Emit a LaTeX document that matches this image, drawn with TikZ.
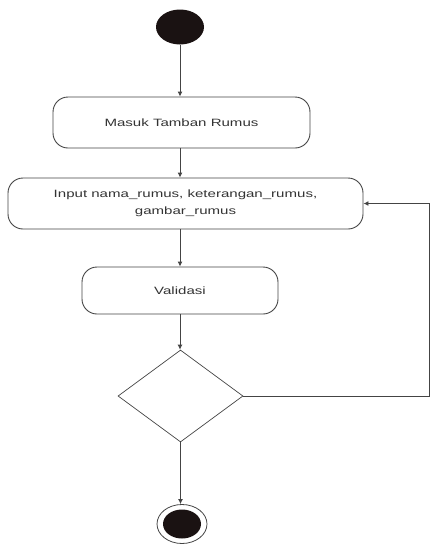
\documentclass[tikz,border=0pt]{standalone}
\usepackage{fontspec}
\setmainfont{Liberation Sans}[FakeStretch=1.42]
\usetikzlibrary{shapes.geometric,arrows.meta}
\definecolor{ln}{HTML}{444444}
\definecolor{tx}{HTML}{333333}
\definecolor{blk}{HTML}{1A1212}
\begin{document}
\begin{tikzpicture}[x=1pt,y=-1pt,
  act/.style={draw=ln,line width=0.9pt,rounded corners=15pt,align=center,
    inner sep=0pt,text=tx,font=\fontsize{10.6}{17}\selectfont},
  arr/.style={draw=ln,line width=0.9pt,-{Latex[length=5pt,width=5pt]}},
  dec/.style={draw=ln,line width=0.7pt,diamond,inner sep=0pt,
    minimum width=125pt,minimum height=92pt}]
\useasboundingbox (0,0) rectangle (430,544);
\node[ellipse,fill=blk,minimum width=48pt,minimum height=35pt,inner sep=0pt] (start) at (180,27) {};
\node[act,minimum width=257pt,minimum height=51pt] (b1) at (181.5,122.5) {Masuk Tamban Rumus};
\node[act,minimum width=355pt,minimum height=51pt] (b2) at (185.5,203.5) {Input nama\_rumus, keterangan\_rumus,\\gambar\_rumus};
\node[act,minimum width=196pt,minimum height=47pt] (b3) at (180,290.5) {Validasi};
\node[dec] (dia) at (180.5,396) {};
\node[ellipse,draw=ln,line width=0.8pt,minimum width=50pt,minimum height=39pt,inner sep=0pt] (fin) at (182,524) {};
\node[ellipse,fill=blk,minimum width=38pt,minimum height=29pt,inner sep=0pt] (finin) at (182,524) {};
\coordinate (rt) at (429,300);
\draw[arr] (start.south) -- (b1.north -| start.south);
\draw[arr] (b1.south -| start.south) -- (b2.north -| start.south);
\draw[arr] (b2.south -| b3.north) -- (b3.north);
\draw[arr] (b3.south) -- (dia.north -| b3.south);
\draw[arr] (dia.south) -- (fin.north -| dia.south);
\draw[arr] (dia.east) -- (dia.east -| rt) -- (b2.east -| rt) -- (b2.east);
\end{tikzpicture}
\end{document}
